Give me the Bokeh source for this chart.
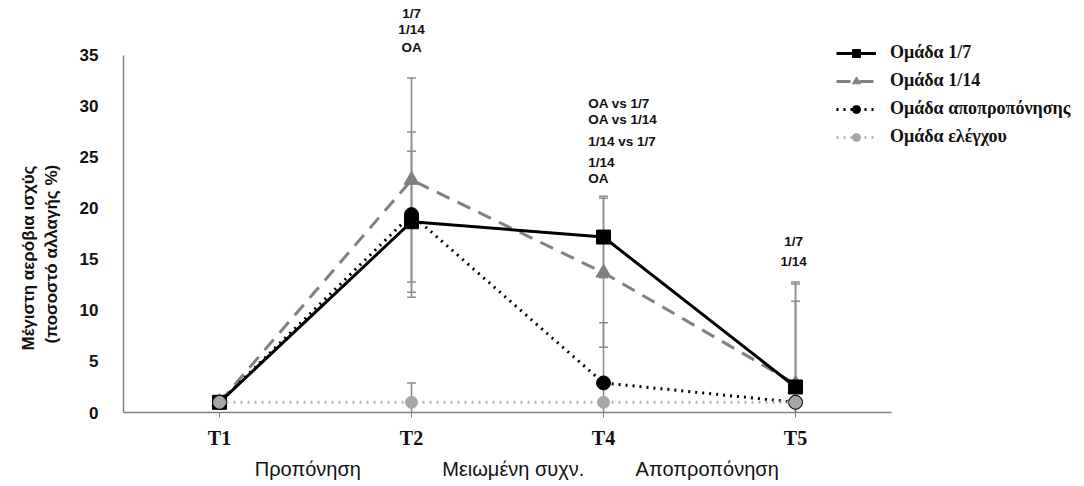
from bokeh.plotting import figure
from bokeh.models import (ColumnDataSource, Whisker, TeeHead, Legend, LegendItem, Label, Title,
                          Range1d, LinearAxis, FixedTicker)
from bokeh.embed import file_html
from bokeh.resources import INLINE

times = ["T1", "T2", "T4", "T5"]
g17 = [1.0, 18.7, 17.2, 2.5]
g114 = [1.0, 22.8, 13.7, 2.8]
gdet = [1.0, 19.4, 2.9, 1.0]
gctl = [1.0, 1.0, 1.0, 1.0]
e17 = [0.0, 6.9, 4.0, 10.3]
e114 = [0.0, 10.0, 7.3, 9.8]
edet = [0.0, 8.1, 5.9, 9.9]
ectl = [0.0, 1.9, 0.0, 0.0]
names = ["Ομάδα 1/7", "Ομάδα 1/14", "Ομάδα αποπροπόνησης", "Ομάδα ελέγχου"]
phases = ["Προπόνηση", "Μειωμένη συχν.", "Αποπροπόνηση"]
phase_pos = [0.46, 1.53, 2.54]
yticks = [0, 5, 10, 15, 20, 25, 30, 35]
ylabel_lines = ["Μέγιστη αερόβια ισχύς", "(ποσοστό αλλαγής %)"]
ann_t2 = ["1/7", "1/14", "OA"]
ann_t2_y = [39.1, 37.5, 35.8]
ann_t4 = ["OA vs 1/7", "OA vs 1/14", "1/14 vs 1/7", "1/14", "OA"]
ann_t4_y = [30.3, 28.7, 26.6, 24.5, 22.9]
ann_t5 = ["1/7", "1/14"]
ann_t5_y = [16.8, 14.8]

xs = list(range(len(times)))
TXT = "#111111"

p = figure(width=1084, height=486, x_range=Range1d(-0.5, 4.505), y_range=Range1d(0, 40.39),
           output_backend="svg", toolbar_location=None, x_axis_location=None, y_axis_location=None,
           min_border_left=123, min_border_right=0, min_border_top=0, min_border_bottom=74)
p.outline_line_color = None
p.grid.grid_line_color = None

yax = LinearAxis(ticker=FixedTicker(ticks=yticks), bounds=(0, 35))
yax.axis_line_color = "#808080"
yax.axis_line_width = 1.5
yax.major_tick_line_color = None
yax.minor_tick_line_color = None
yax.major_label_text_font = "Liberation Sans"
yax.major_label_text_font_style = "bold"
yax.major_label_text_font_size = "17px"
yax.major_label_text_color = TXT
yax.major_label_standoff = 19
yax.axis_label = " "
yax.axis_label_text_font_size = "11px"
yax.axis_label_standoff = 0
p.add_layout(yax, "left")

for line, off in zip(reversed(ylabel_lines), (69, 62)):
    p.add_layout(Title(text=line, align="left", offset=off, standoff=2,
                       text_font="Liberation Sans", text_font_style="bold",
                       text_font_size="17px", text_color=TXT), "left")

xax = LinearAxis(ticker=FixedTicker(ticks=xs), bounds=(-0.5, 3.5),
                 major_label_overrides={i: t for i, t in zip(xs, times)})
xax.axis_line_color = "#808080"
xax.axis_line_width = 1.5
xax.major_tick_line_color = "#808080"
xax.major_tick_out = 5
xax.major_tick_in = 0
xax.minor_tick_line_color = None
xax.major_label_text_font = "Liberation Serif"
xax.major_label_text_font_style = "bold"
xax.major_label_text_font_size = "20px"
xax.major_label_text_color = TXT
xax.major_label_standoff = 9
p.add_layout(xax, "below")

pax = LinearAxis(ticker=FixedTicker(ticks=phase_pos),
                 major_label_overrides={v: t for v, t in zip(phase_pos, phases)})
pax.axis_line_color = None
pax.major_tick_line_color = None
pax.minor_tick_line_color = None
pax.major_label_text_font = "Liberation Sans"
pax.major_label_text_font_size = "20px"
pax.major_label_text_color = TXT
pax.major_label_standoff = 0
p.add_layout(pax, "below")

def add_err(vals, errs):
    keep = [i for i, e in enumerate(errs) if e > 0]
    src = ColumnDataSource(dict(x=[xs[i] for i in keep],
                                up=[vals[i] + errs[i] for i in keep],
                                lo=[vals[i] - errs[i] for i in keep]))
    w = Whisker(source=src, base="x", upper="up", lower="lo", line_color="#8c8c8c", line_width=1.5,
                upper_head=TeeHead(size=9, line_color="#8c8c8c", line_width=1.5),
                lower_head=TeeHead(size=9, line_color="#8c8c8c", line_width=1.5))
    p.add_layout(w)

for v, e in ((g114, e114), (g17, e17), (gdet, edet), (gctl, ectl)):
    add_err(v, e)

l1 = p.line(xs, g114, line_color="#808080", line_width=3, line_dash="14 9")
m1 = p.scatter(xs, g114, marker="triangle", size=15, color="#808080")
l0 = p.line(xs, g17, line_color="black", line_width=3)
m0 = p.scatter(xs, g17, marker="square", size=14, color="black")
l2 = p.line(xs, gdet, line_color="black", line_width=3, line_dash="2 5")
m2 = p.scatter(xs, gdet, marker="circle", size=14, color="black")
l3 = p.line(xs, gctl, line_color="#b3b3b3", line_width=3, line_dash="2 5")
m3 = p.scatter(xs, gctl, marker="circle", size=12, fill_color="#a6a6a6", line_color="#a6a6a6")

legend = Legend(items=[LegendItem(label=names[0], renderers=[l0, m0]),
                       LegendItem(label=names[1], renderers=[l1, m1]),
                       LegendItem(label=names[2], renderers=[l2, m2]),
                       LegendItem(label=names[3], renderers=[l3, m3])],
                location=(713, 265), padding=0, margin=0, spacing=7,
                glyph_width=40, glyph_height=20, label_standoff=14,
                label_text_font="Liberation Serif", label_text_font_style="bold",
                label_text_font_size="18px", label_text_color=TXT,
                border_line_color=None, background_fill_alpha=0)
p.add_layout(legend, "center")

def add_texts(texts, ys, x, align):
    for t, y in zip(texts, ys):
        p.add_layout(Label(x=x, y=y, text=t, text_font="Liberation Sans", text_font_style="bold",
                           text_font_size="13.5px", text_align=align, text_baseline="middle",
                           text_color=TXT))

add_texts(ann_t2, ann_t2_y, xs[1], "center")
add_texts(ann_t4, ann_t4_y, xs[2] - 0.08, "left")
add_texts(ann_t5, ann_t5_y, xs[3] - 0.01, "center")

open("out.html", "w").write(file_html(p, INLINE))
